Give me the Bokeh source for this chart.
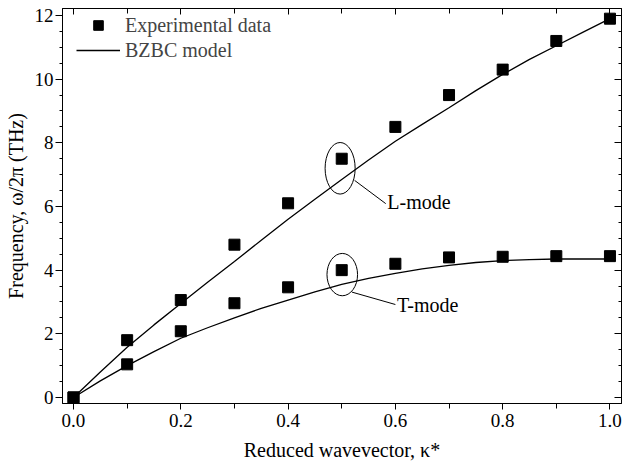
from bokeh.plotting import figure
from bokeh.models import (Range1d, LinearAxis, FixedTicker, Legend, LegendItem,
                          PrintfTickFormatter, CustomJSTickFormatter)
from bokeh.core.properties import value
from bokeh.embed import file_html
from bokeh.resources import INLINE

# ---- data ----
kappa = [0.0, 0.1, 0.2, 0.3, 0.4, 0.5, 0.6, 0.7, 0.8, 0.9, 1.0]
l_exp = [0.0, 1.80, 3.06, 4.80, 6.10, 7.50, 8.50, 9.50, 10.30, 11.20, 11.90]
t_exp = [0.0, 1.04, 2.08, 2.96, 3.46, 4.00, 4.20, 4.40, 4.42, 4.44, 4.44]

kappa_model = [0.0, 0.05, 0.1, 0.15, 0.2, 0.25, 0.3, 0.35, 0.4, 0.45, 0.5,
               0.55, 0.6, 0.65, 0.7, 0.75, 0.8, 0.85, 0.9, 0.95, 1.0]
l_model = [0.0, 0.80, 1.58, 2.28, 2.95, 3.62, 4.27, 4.94, 5.60, 6.23, 6.85,
           7.46, 8.05, 8.58, 9.10, 9.64, 10.15, 10.62, 11.05, 11.48, 11.90]
t_model = [0.0, 0.52, 1.00, 1.44, 1.86, 2.19, 2.50, 2.80, 3.06, 3.32, 3.55,
           3.74, 3.90, 4.04, 4.15, 4.24, 4.30, 4.33, 4.35, 4.35, 4.35]

mode_names = ["L-mode", "T-mode"]
ellipse_x = [0.497, 0.501]
ellipse_y = [7.20, 3.86]
ellipse_w = [0.056, 0.057]
ellipse_h = [1.62, 1.33]
leader_x0 = [0.524, 0.519]
leader_y0 = [6.82, 3.31]
leader_x1 = [0.582, 0.600]
leader_y1 = [6.09, 2.92]
label_x = [0.585, 0.603]
label_y = [6.14, 2.92]

x_ticks = [0.0, 0.2, 0.4, 0.6, 0.8, 1.0]
x_minor = [0.1, 0.3, 0.5, 0.7, 0.9]
y_ticks = [0, 2, 4, 6, 8, 10, 12]
y_minor = [0.5 * i for i in range(25)]

FONT = "Liberation Serif"
FRAME_W = 559
FRAME_H = 395

p = figure(frame_width=FRAME_W, frame_height=FRAME_H, output_backend="svg",
           toolbar_location=None,
           x_range=Range1d(-0.0205, 1.0215), y_range=Range1d(-0.19, 12.22),
           min_border_left=62, min_border_right=4, min_border_top=8,
           min_border_bottom=61)
p.xgrid.visible = False
p.ygrid.visible = False
p.outline_line_color = "black"
p.background_fill_color = "white"
p.border_fill_color = "white"

# bottom axis
xa = p.xaxis[0]
xa.ticker = FixedTicker(ticks=x_ticks, minor_ticks=x_minor)
xa.formatter = PrintfTickFormatter(format="%.1f")
xa.axis_label = "Reduced wavevector, \u03ba*"
# left axis
ya = p.yaxis[0]
ya.ticker = FixedTicker(ticks=y_ticks, minor_ticks=y_minor)
ya.axis_label = "Frequency, \u03c9/2\u03c0 (THz)"

for ax in (xa, ya):
    ax.axis_line_color = "black"
    ax.major_tick_line_color = "black"
    ax.minor_tick_line_color = "black"
    ax.major_tick_in = 0
    ax.minor_tick_in = 0
    ax.major_label_text_font = FONT
    ax.major_label_text_font_size = "19px"
    ax.major_label_text_color = "black"
    ax.axis_label_text_font = FONT
    ax.axis_label_text_font_size = "20px"
    ax.axis_label_text_font_style = "normal"
    ax.axis_label_text_color = "black"
xa.major_tick_out = 6
xa.minor_tick_out = 5
xa.major_label_standoff = 4
xa.axis_label_standoff = 9
ya.major_tick_out = 7
ya.minor_tick_out = 3
ya.major_label_standoff = 2
ya.axis_label_standoff = 5

blank = CustomJSTickFormatter(code="return '';")
top = LinearAxis(ticker=FixedTicker(ticks=x_ticks, minor_ticks=x_minor),
                 formatter=blank, major_tick_out=0, minor_tick_out=0,
                 major_tick_in=6, minor_tick_in=5, major_label_standoff=0,
                 major_label_text_font_size="1px", axis_line_color="black")
right = LinearAxis(ticker=FixedTicker(ticks=y_ticks, minor_ticks=y_minor),
                   formatter=blank, major_tick_out=0, minor_tick_out=0,
                   major_tick_in=7, minor_tick_in=3, major_label_standoff=0,
                   major_label_text_font_size="1px", axis_line_color="black")
p.add_layout(top, "above")
p.add_layout(right, "right")

# model curves
lm = p.line(kappa_model, l_model, line_color="black", line_width=1.3)
p.line(kappa_model, t_model, line_color="black", line_width=1.3)
# experimental data
sc = p.scatter(kappa, l_exp, marker="square", size=11, fill_color="black", line_color="black")
p.scatter(kappa, t_exp, marker="square", size=11, fill_color="black", line_color="black")

# annotations
p.ellipse(x=ellipse_x, y=ellipse_y, width=ellipse_w, height=ellipse_h,
          fill_color=None, line_color="black", line_width=1)
p.segment(x0=leader_x0, y0=leader_y0, x1=leader_x1, y1=leader_y1,
          line_color="black", line_width=1)
p.text(x=label_x, y=label_y, text=mode_names, text_font=value(FONT),
       text_font_size="20px", text_align="left", text_baseline="middle",
       text_color="black")

legend = Legend(items=[LegendItem(label="Experimental data", renderers=[sc]),
                       LegendItem(label="BZBC model", renderers=[lm])],
                location=(14, FRAME_H - 5 - 49), padding=0, margin=0, spacing=1,
                glyph_width=44, glyph_height=24, label_height=24,
                label_standoff=5, label_text_font=FONT,
                label_text_font_size="20px", border_line_color=None,
                background_fill_alpha=0)
p.add_layout(legend)

open("out.html", "w").write(file_html(p, INLINE))
